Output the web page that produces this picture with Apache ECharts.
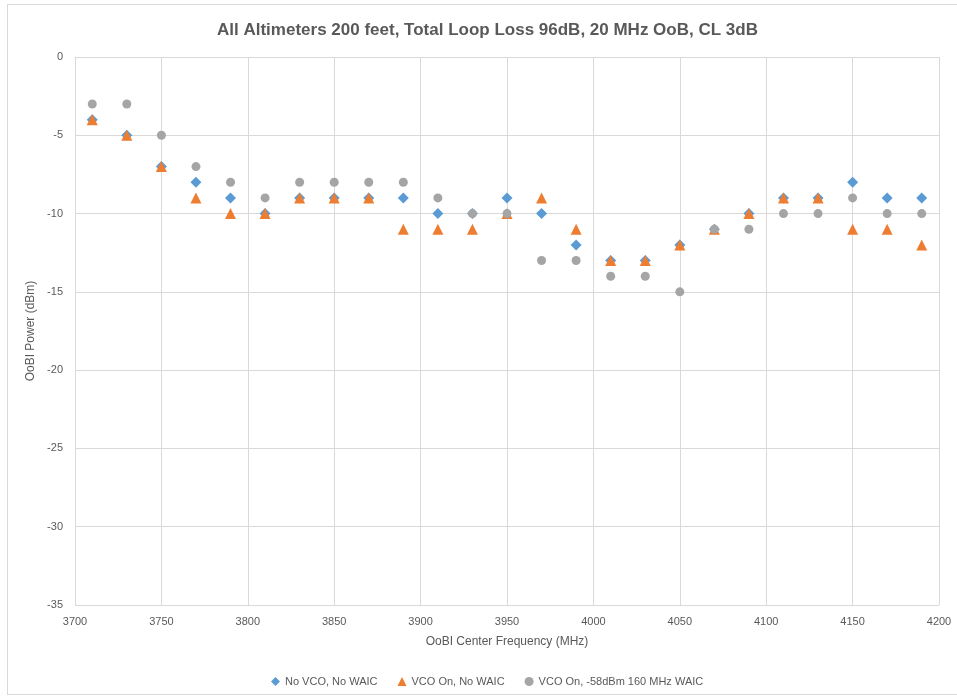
<!DOCTYPE html>
<html>
<head>
<meta charset="utf-8">
<script src="https://cdn.jsdelivr.net/npm/echarts@6/dist/echarts.min.js"></script>
<style>
html,body{margin:0;padding:0;background:#fff;}
#c{width:957px;height:698px;}
#frame{position:absolute;left:7px;top:4px;width:960px;height:691px;border:1px solid #d9d9d9;box-sizing:border-box;pointer-events:none;}
</style>
</head>
<body>
<div id="c"></div>
<div id="frame"></div>
<script>
const freqs = [3710,3730,3750,3770,3790,3810,3830,3850,3870,3890,3910,3930,3950,3970,3990,4010,4030,4050,4070,4090,4110,4130,4150,4170,4190];
const noVcoNoWaic = [-4,-5,-7,-8,-9,-10,-9,-9,-9,-9,-10,-10,-9,-10,-12,-13,-13,-12,-11,-10,-9,-9,-8,-9,-9];
const vcoOnNoWaic = [-4,-5,-7,-9,-10,-10,-9,-9,-9,-11,-11,-11,-10,-9,-11,-13,-13,-12,-11,-10,-9,-9,-11,-11,-12];
const vcoOnWaic = [-3,-3,-5,-7,-8,-9,-8,-8,-8,-8,-9,-10,-10,-13,-13,-14,-14,-15,-11,-11,-10,-10,-9,-10,-10];
const seriesNames = ['No VCO, No WAIC','VCO On, No WAIC','VCO On, -58dBm 160 MHz WAIC'];

const pair = arr => freqs.map((f,i)=>[f,arr[i]]);
const font = "'Liberation Sans',sans-serif";
const txt = '#595959';

const chart = echarts.init(document.getElementById('c'));
chart.setOption({
  animation:false,
  title:{text:'All Altimeters 200 feet, Total Loop Loss 96dB, 20 MHz OoB, CL 3dB',left:212,top:17,
    textStyle:{color:txt,fontSize:17,fontWeight:'bold',fontFamily:font}},
  grid:{left:75,right:18,top:57,bottom:93},
  legend:{top:671,left:266,itemWidth:9,itemHeight:9,itemGap:20,
    textStyle:{color:txt,fontSize:11,fontFamily:font},data:seriesNames},
  xAxis:{type:'value',min:3700,max:4200,interval:50,
    name:'OoBI Center Frequency (MHz)',nameLocation:'middle',nameGap:31,
    nameTextStyle:{color:txt,fontSize:12,fontFamily:font},
    axisLine:{lineStyle:{color:'#d9d9d9'}},axisTick:{show:false},
    axisLabel:{color:txt,fontSize:11,fontFamily:font,margin:11,formatter:v=>String(v)},
    splitLine:{show:true,lineStyle:{color:'#d9d9d9'}}},
  yAxis:{type:'value',min:-35,max:0,interval:5,
    name:'OoBI Power (dBm)',nameLocation:'middle',nameGap:25,nameRotate:90,
    nameTextStyle:{color:txt,fontSize:12,fontFamily:font},
    axisLine:{show:true,lineStyle:{color:'#d9d9d9'}},axisTick:{show:false},
    axisLabel:{color:txt,fontSize:11,fontFamily:font,margin:12,formatter:v=>String(v)},
    splitLine:{show:true,lineStyle:{color:'#d9d9d9'}}},
  series:[
    {name:seriesNames[0],type:'scatter',symbol:'diamond',symbolSize:11,itemStyle:{color:'#5B9BD5',opacity:1},data:pair(noVcoNoWaic)},
    {name:seriesNames[1],type:'scatter',symbol:'triangle',symbolSize:11,itemStyle:{color:'#ED7D31',opacity:1},data:pair(vcoOnNoWaic)},
    {name:seriesNames[2],type:'scatter',symbol:'circle',symbolSize:9,itemStyle:{color:'#A5A5A5',opacity:1},data:pair(vcoOnWaic)}
  ]
});
</script>
</body>
</html>
